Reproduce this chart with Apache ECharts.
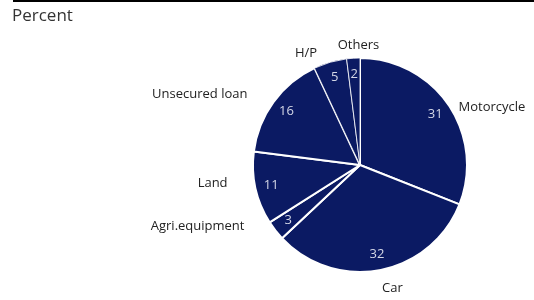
<!DOCTYPE html>
<html>
<head>
<meta charset="utf-8">
<script src="https://cdn.jsdelivr.net/npm/echarts@6/dist/echarts.min.js"></script>
<style>
  html, body { margin: 0; padding: 0; background: #fff; }
  #main { width: 534px; height: 300px; }
</style>
</head>
<body>
<div id="main"></div>
<script>
// slice names and shares (percent), clockwise from 12 o'clock
const categories = ['Motorcycle', 'Car', 'Agri.equipment', 'Land', 'Unsecured loan', 'H/P', 'Others']
const shares = [31, 32, 3, 11, 16, 5, 2]

// small nudges so the outside names sit where the original has them
const nameNudge = [
  [5, 2], [-3, 18], [-26, -4], [-23, -5], [-21, -8], [-8, -9], [31, -13]
]
// thin borders for the two small slices at the top
const thinBorder = ['H/P', 'Others']

const fill = '#0b1a63'
const font = '"Open Sans", "Noto Sans", sans-serif'

const chart = echarts.init(document.getElementById('main'))

const option = {
  animation: false,
  title: {
    text: 'Percent',
    left: 12,
    top: 8,
    padding: 0,
    textStyle: { fontFamily: font, fontSize: 17, fontWeight: 'normal', color: '#333' }
  },
  graphic: [
    {
      type: 'line',
      shape: { x1: 13, y1: 1, x2: 534, y2: 1 },
      style: { stroke: '#000', lineWidth: 2 }
    }
  ],
  series: [
    {
      // the pie itself + outside names
      type: 'pie',
      center: [360, 165],
      radius: [0, 107],
      startAngle: 90,
      clockwise: true,
      avoidLabelOverlap: false,
      silent: true,
      itemStyle: { color: fill, borderColor: '#fff', borderWidth: 2 },
      label: {
        show: true,
        position: 'outside',
        formatter: '{b}',
        fontFamily: font,
        fontSize: 13,
        color: '#222',
        distanceToLabelLine: 5
      },
      labelLine: { show: false, length: 0, length2: 0 },
      labelLayout: function (params) {
        const n = nameNudge[params.dataIndex]
        return { dx: n[0], dy: n[1] }
      },
      data: categories.map((c, i) => ({
        name: c,
        value: shares[i],
        itemStyle: thinBorder.includes(c) ? { borderWidth: 0.8 } : undefined
      }))
    },
    {
      // value labels inside the slices
      type: 'pie',
      center: [360, 165],
      radius: [69, 107],
      startAngle: 90,
      clockwise: true,
      silent: true,
      itemStyle: { color: 'transparent', borderWidth: 0 },
      label: {
        show: true,
        position: 'inside',
        formatter: '{c}',
        fontFamily: font,
        fontSize: 13,
        color: '#d4d7e6'
      },
      labelLine: { show: false },
      data: categories.map((c, i) => ({ name: c, value: shares[i] }))
    }
  ]
}

chart.setOption(option)
</script>
</body>
</html>
